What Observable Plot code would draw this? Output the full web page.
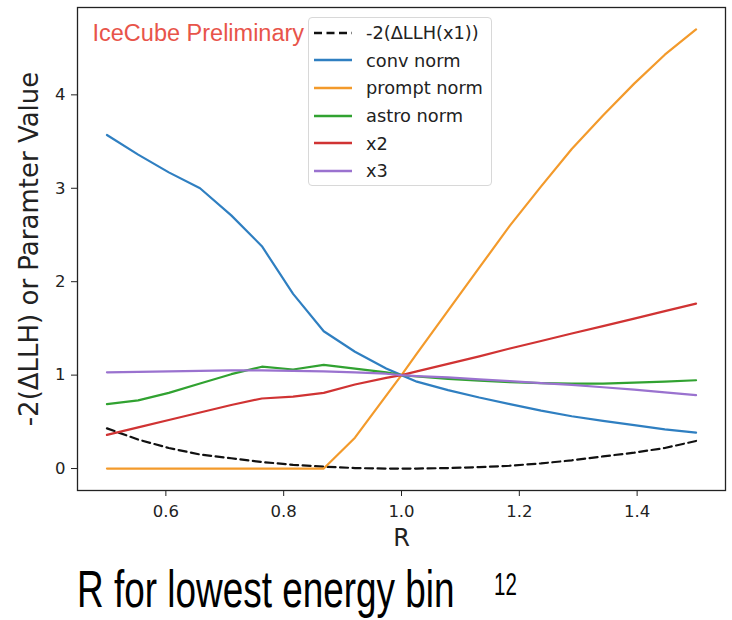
<!DOCTYPE html>
<html>
<head>
<meta charset="utf-8">
<script src="https://cdn.jsdelivr.net/npm/d3@7"></script>
<script src="https://cdn.jsdelivr.net/npm/@observablehq/plot@0.6"></script>
<style>
  html, body { margin: 0; padding: 0; background: #fff; }
  #wrap { position: relative; width: 732px; height: 620px; overflow: hidden; }
  #chart svg { display: block; font-family: "DejaVu Sans", sans-serif; }
  g[aria-label="x-axis label"] text { font-size: 24px; }
  g[aria-label="y-axis label"] text { font-size: 26px; }
  #legend {
    position: absolute; left: 308px; top: 17px; width: 184px; height: 169px;
    box-sizing: border-box; border: 1px solid #d8d8d8; border-radius: 4px;
    background: rgba(255,255,255,0.85);
    font-family: "DejaVu Sans", sans-serif; font-size: 17.8px; color: #222;
    padding-top: 1px;
  }
  #legend .row { display: flex; align-items: center; height: 27.6px; }
  #legend svg { margin-left: 5px; margin-right: 14px; }
  #caption {
    position: absolute; left: 77px; top: 563px; white-space: nowrap;
    font-family: "Liberation Sans", Arial, sans-serif; font-size: 52px; color: #000;
    transform: scaleX(0.71); transform-origin: left top; line-height: 1;
  }
  #pagenum {
    position: absolute; left: 494px; top: 569px;
    font-family: "Liberation Sans", Arial, sans-serif; font-size: 31px; color: #000;
    transform: scaleX(0.66); transform-origin: left top; line-height: 1;
  }
</style>
</head>
<body>
<div id="wrap">
  <div id="chart"></div>
  <div id="legend"></div>
  <div id="caption">R for lowest energy bin</div>
  <div id="pagenum">12</div>
</div>
<script>
// R grid (x values)
const R = [0.5, 0.553, 0.605, 0.658, 0.711, 0.763, 0.816, 0.868, 0.921, 0.974, 1.0,
           1.026, 1.079, 1.132, 1.184, 1.237, 1.289, 1.342, 1.395, 1.447, 1.5];
// series values
const llh    = [0.43, 0.31, 0.22, 0.15, 0.11, 0.07, 0.04, 0.02, 0.005, 0.0, 0.0,
                0.0, 0.005, 0.015, 0.03, 0.055, 0.088, 0.13, 0.17, 0.22, 0.295];
const conv   = [3.57, 3.36, 3.17, 3.0, 2.71, 2.38, 1.87, 1.47, 1.25, 1.07, 1.0,
                0.93, 0.84, 0.76, 0.69, 0.62, 0.56, 0.51, 0.465, 0.42, 0.385];
const prompt = [0, 0, 0, 0, 0, 0, 0, 0, 0.33, 0.78, 1.0,
                1.23, 1.69, 2.15, 2.6, 3.02, 3.42, 3.78, 4.12, 4.43, 4.70];
const astro  = [0.69, 0.73, 0.81, 0.91, 1.01, 1.09, 1.06, 1.11, 1.07, 1.03, 1.0,
                0.985, 0.96, 0.94, 0.925, 0.915, 0.91, 0.91, 0.92, 0.93, 0.945];
const x2     = [0.36, 0.44, 0.52, 0.60, 0.68, 0.75, 0.77, 0.81, 0.90, 0.97, 1.0,
                1.04, 1.12, 1.20, 1.285, 1.365, 1.445, 1.525, 1.605, 1.685, 1.765];
const x3     = [1.03, 1.035, 1.04, 1.045, 1.05, 1.05, 1.045, 1.04, 1.03, 1.015, 1.0,
                0.99, 0.975, 0.955, 0.935, 0.915, 0.895, 0.87, 0.845, 0.815, 0.785];

const seriesNames = ["-2(ΔLLH(x1))", "conv norm", "prompt norm", "astro norm", "x2", "x3"];
const seriesValues = [llh, conv, prompt, astro, x2, x3];
const seriesColors = ["#111111", "#2f7fc1", "#f39a2b", "#31a231", "#d03333", "#9a72cf"];
const xTicks = [0.6, 0.8, 1.0, 1.2, 1.4];
const yTicks = [0, 1, 2, 3, 4];

const rows = seriesNames.map((name, i) => R.map((r, j) => ({R: r, v: seriesValues[i][j], s: name})));

const lineMarks = rows.map((d, i) => Plot.line(d, {
  x: "R", y: "v",
  stroke: seriesColors[i],
  strokeWidth: 2.2,
  strokeDasharray: i === 0 ? "8,4.5" : null,
  strokeLinejoin: "round"
}));

const chart = Plot.plot({
  width: 732,
  height: 552,
  marginLeft: 77,
  marginRight: 7,
  marginTop: 7,
  marginBottom: 62,
  style: {fontFamily: "DejaVu Sans, sans-serif", color: "#222", background: "#fff"},
  x: {domain: [0.45, 1.55]},
  y: {domain: [-0.235, 4.935]},
  marks: [
    ...lineMarks,
    Plot.text(["IceCube Preliminary"], {
      frameAnchor: "top-left", dx: 15, dy: 17,
      fill: "#e8544a", fontSize: 23.5, fontFamily: "Liberation Sans, Arial, sans-serif",
      textAnchor: "start"
    }),
    Plot.frame({stroke: "#222", strokeWidth: 1.3}),
    Plot.axisX({ticks: xTicks, tickFormat: d3.format(".1f"), tickSize: 6, tickPadding: 9,
      fontSize: 16.5, label: "R", labelAnchor: "center", labelArrow: "none", labelOffset: 55}),
    Plot.axisY({ticks: yTicks, tickFormat: d3.format("d"), tickSize: 6, tickPadding: 6,
      fontSize: 16.5, label: "-2(ΔLLH) or Paramter Value", labelAnchor: "center",
      labelArrow: "none", labelOffset: 58})
  ]
});
document.getElementById("chart").appendChild(chart);

// legend
const legend = document.getElementById("legend");
seriesNames.forEach((name, i) => {
  const row = document.createElement("div");
  row.className = "row";
  const dash = i === 0 ? ' stroke-dasharray="8,4.5"' : "";
  row.innerHTML = `<svg width="38" height="10"><line x1="0" y1="5" x2="38" y2="5" stroke="${seriesColors[i]}" stroke-width="2.4"${dash}/></svg><span>${name}</span>`;
  legend.appendChild(row);
});
</script>
</body>
</html>
